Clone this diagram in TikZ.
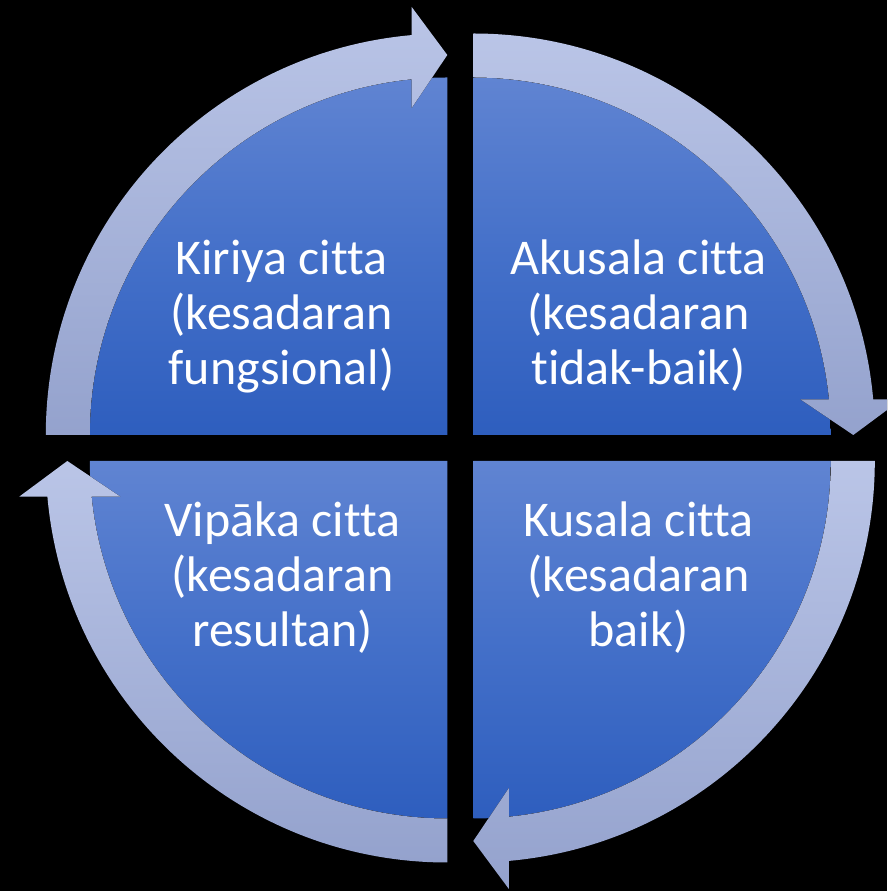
\documentclass[tikz,border=0pt]{standalone}
\usepackage{fontspec}
\setmainfont{Carlito}[Ligatures=NoCommon]
\definecolor{secTop}{RGB}{96,132,210}
\definecolor{secMid}{RGB}{68,112,201}
\definecolor{secBot}{RGB}{46,94,190}
\definecolor{ringTop}{RGB}{186,197,231}
\definecolor{ringBot}{RGB}{148,162,205}
\begin{document}
\begin{tikzpicture}[x=1pt,y=1pt,
  sector/.style={top color=secTop, bottom color=secBot, middle color=secMid, draw=none},
  ringseg/.style={top color=ringTop, bottom color=ringBot, draw=none},
  celltext/.style={text=white, font=\fontsize{50}{55}\selectfont, align=center, anchor=base, inner sep=0pt}]
\fill[black] (0,0) rectangle (887,891);
\clip (0,0) rectangle (887,891);
\coordinate (tl) at (447.3,456);
\coordinate (tr) at (473.3,456);
\coordinate (br) at (473.3,430);
\coordinate (bl) at (447.3,430);
% sectors
\fill[sector] (tl) -- ++(180:357.5) arc[start angle=180, end angle=90, radius=357.5] -- cycle;
\fill[sector] (tr) -- ++(90:357.5) arc[start angle=90, end angle=0, radius=357.5] -- cycle;
\fill[sector] (br) -- ++(0:357.5) arc[start angle=0, end angle=-90, radius=357.5] -- cycle;
\fill[sector] (bl) -- ++(-90:357.5) arc[start angle=-90, end angle=-180, radius=357.5] -- cycle;
% ring segments with arrowheads
\begin{scope}[shift={(tl)}]
\fill[ringseg] (180:401.5) arc[start angle=180, end angle=95.09, radius=401.5] -- (-35.6,428) -- (0,380) -- (-35.6,327) -- (95.71:357.5) arc[start angle=95.71, end angle=180, radius=357.5] -- cycle;
\end{scope}
\begin{scope}[shift={(tr)}]
\fill[ringseg] (90:401.5) arc[start angle=90, end angle=5.09, radius=401.5] -- (428,35.6) -- (380,0) -- (327,35.6) -- (5.71:357.5) arc[start angle=5.71, end angle=90, radius=357.5] -- cycle;
\end{scope}
\begin{scope}[shift={(br)}]
\fill[ringseg] (0:401.5) arc[start angle=0, end angle=-84.91, radius=401.5] -- (35.6,-428) -- (0,-380) -- (35.6,-327) -- (-84.29:357.5) arc[start angle=-84.29, end angle=0, radius=357.5] -- cycle;
\end{scope}
\begin{scope}[shift={(bl)}]
\fill[ringseg] (-90:401.5) arc[start angle=-90, end angle=-174.91, radius=401.5] -- (-428,-35.6) -- (-380,0) -- (-327,-35.6) -- (-174.29:357.5) arc[start angle=-174.29, end angle=-90, radius=357.5] -- cycle;
\end{scope}
% texts (anchor = baseline of last line)
\node[celltext] (kiriya) at (281.5,506) {Kiriya citta\\(kesadaran\\fungsional)};
\node[celltext] (akusala) at (638.5,506) {Akusala citta\\(kesadaran\\tidak-baik)};
\node[celltext] (kusala) at (638.5,244.3) {Kusala citta\\(kesadaran\\baik)};
\node[celltext] (vipaka) at (282.5,244.3) {Vipāka citta\\(kesadaran\\resultan)};
\end{tikzpicture}
\end{document}
